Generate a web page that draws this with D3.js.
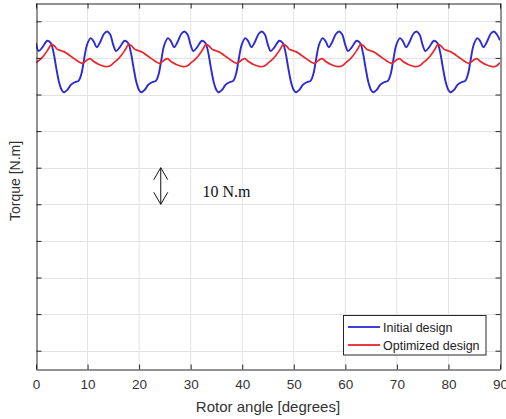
<!DOCTYPE html>
<html>
<head>
<meta charset="utf-8">
<script src="https://cdn.jsdelivr.net/npm/d3@7"></script>
<style>
  html, body { margin: 0; padding: 0; background: #fff; }
  svg { display: block; }
</style>
</head>
<body>
<svg id="chart" width="506" height="419"></svg>
<script>
// ---- data ----
const xTicks = [0, 10, 20, 30, 40, 50, 60, 70, 80, 90];
const yTicks = [0, 10, 20, 30, 40, 50, 60, 70, 80, 90];

const initialAngle = [
  0, 0.5, 1.2, 2.2, 2.9, 3.4, 3.9, 4.5, 5.0,
  5.4, 6.1, 6.8, 7.6, 8.3, 8.8, 9.3, 9.9, 10.6, 11.2, 11.8, 12.4, 13.2, 13.8, 14.4, 15.0, 15.5, 16.2, 17.2, 17.9, 18.4, 18.9, 19.5, 20.0,
  20.4, 21.1, 21.8, 22.6, 23.3, 23.8, 24.3, 24.9, 25.6, 26.2, 26.8, 27.4, 28.2, 28.8, 29.4, 30.0, 30.5, 31.2, 32.2, 32.9, 33.4, 33.9, 34.5, 35.0,
  35.4, 36.1, 36.8, 37.6, 38.3, 38.8, 39.3, 39.9, 40.6, 41.2, 41.8, 42.4, 43.2, 43.8, 44.4, 45.0, 45.5, 46.2, 47.2, 47.9, 48.4, 48.9, 49.5, 50.0,
  50.4, 51.1, 51.8, 52.6, 53.3, 53.8, 54.3, 54.9, 55.6, 56.2, 56.8, 57.4, 58.2, 58.8, 59.4, 60.0, 60.5, 61.2, 62.2, 62.9, 63.4, 63.9, 64.5, 65.0,
  65.4, 66.1, 66.8, 67.6, 68.3, 68.8, 69.3, 69.9, 70.6, 71.2, 71.8, 72.4, 73.2, 73.8, 74.4, 75.0, 75.5, 76.2, 77.2, 77.9, 78.4, 78.9, 79.5, 80.0,
  80.4, 81.1, 81.8, 82.6, 83.3, 83.8, 84.3, 84.9, 85.6, 86.2, 86.8, 87.4, 88.2, 88.8, 89.4, 90.0
];
const initialTorque = [
  84.0, 81.9, 82.8, 84.7, 84.0, 81.5, 77.5, 73.2, 71.2,
  70.6, 71.3, 72.7, 73.4, 73.8, 75.6, 79.4, 83.6, 85.4, 84.5, 82.9, 84.2, 86.6, 87.2, 86.4, 83.5, 81.9, 82.8, 84.7, 84.0, 81.5, 77.5, 73.2, 71.2,
  70.6, 71.3, 72.7, 73.4, 73.8, 75.6, 79.4, 83.6, 85.4, 84.5, 82.9, 84.2, 86.6, 87.2, 86.4, 83.5, 81.9, 82.8, 84.7, 84.0, 81.5, 77.5, 73.2, 71.2,
  70.6, 71.3, 72.7, 73.4, 73.8, 75.6, 79.4, 83.6, 85.4, 84.5, 82.9, 84.2, 86.6, 87.2, 86.4, 83.5, 81.9, 82.8, 84.7, 84.0, 81.5, 77.5, 73.2, 71.2,
  70.6, 71.3, 72.7, 73.4, 73.8, 75.6, 79.4, 83.6, 85.4, 84.5, 82.9, 84.2, 86.6, 87.2, 86.4, 83.5, 81.9, 82.8, 84.7, 84.0, 81.5, 77.5, 73.2, 71.2,
  70.6, 71.3, 72.7, 73.4, 73.8, 75.6, 79.4, 83.6, 85.4, 84.5, 82.9, 84.2, 86.6, 87.2, 86.4, 83.5, 81.9, 82.8, 84.7, 84.0, 81.5, 77.5, 73.2, 71.2,
  70.6, 71.3, 72.7, 73.4, 73.8, 75.6, 79.4, 83.6, 85.4, 84.5, 82.9, 84.2, 86.6, 87.2, 86.4, 84.8
];

const optimizedAngle = [
  0, 1.0, 1.5, 2.3, 3.0,
  3.6, 4.1, 5.0, 5.7, 6.5, 7.4, 8.2, 9.0, 9.9, 10.5, 11.2, 12.2, 13.5, 14.3, 15.1, 16.0, 16.5, 17.3, 18.0,
  18.6, 19.1, 20.0, 20.7, 21.5, 22.4, 23.2, 24.0, 24.9, 25.5, 26.2, 27.2, 28.5, 29.3, 30.1, 31.0, 31.5, 32.3, 33.0,
  33.6, 34.1, 35.0, 35.7, 36.5, 37.4, 38.2, 39.0, 39.9, 40.5, 41.2, 42.2, 43.5, 44.3, 45.1, 46.0, 46.5, 47.3, 48.0,
  48.6, 49.1, 50.0, 50.7, 51.5, 52.4, 53.2, 54.0, 54.9, 55.5, 56.2, 57.2, 58.5, 59.3, 60.1, 61.0, 61.5, 62.3, 63.0,
  63.6, 64.1, 65.0, 65.7, 66.5, 67.4, 68.2, 69.0, 69.9, 70.5, 71.2, 72.2, 73.5, 74.3, 75.1, 76.0, 76.5, 77.3, 78.0,
  78.6, 79.1, 80.0, 80.7, 81.5, 82.4, 83.2, 84.0, 84.9, 85.5, 86.2, 87.2, 88.5, 89.3, 90.0
];
const optimizedTorque = [
  78.7, 79.8, 80.6, 82.2, 83.7,
  83.2, 82.4, 81.9, 81.5, 80.7, 79.8, 79.0, 78.5, 79.4, 79.8, 79.0, 78.2, 77.6, 77.8, 78.7, 79.8, 80.6, 82.2, 83.7,
  83.2, 82.4, 81.9, 81.5, 80.7, 79.8, 79.0, 78.5, 79.4, 79.8, 79.0, 78.2, 77.6, 77.8, 78.7, 79.8, 80.6, 82.2, 83.7,
  83.2, 82.4, 81.9, 81.5, 80.7, 79.8, 79.0, 78.5, 79.4, 79.8, 79.0, 78.2, 77.6, 77.8, 78.7, 79.8, 80.6, 82.2, 83.7,
  83.2, 82.4, 81.9, 81.5, 80.7, 79.8, 79.0, 78.5, 79.4, 79.8, 79.0, 78.2, 77.6, 77.8, 78.7, 79.8, 80.6, 82.2, 83.7,
  83.2, 82.4, 81.9, 81.5, 80.7, 79.8, 79.0, 78.5, 79.4, 79.8, 79.0, 78.2, 77.6, 77.8, 78.7, 79.8, 80.6, 82.2, 83.7,
  83.2, 82.4, 81.9, 81.5, 80.7, 79.8, 79.0, 78.5, 79.4, 79.8, 79.0, 78.2, 77.6, 77.8, 78.7
];

const seriesNames = ["Initial design", "Optimized design"];
const seriesColors = ["#2b2bd4", "#e8262b"];
const scaleBar = { angle: 24.2, from: 40, to: 50, label: "10 N.m", labelAngle: 32.3, labelValue: 43.6 };

// ---- layout ----
const svg = d3.select("#chart");
const L = 36, R = 500, T = 3, B = 369;

const x = d3.scaleLinear().domain([0, 90]).range([L, R]);
const y = d3.scaleLinear().domain([-5, 95]).range([B, T]);

const axisColor = "#262626";
const gridColor = "#e3e3e3";

// grid
const grid = svg.append("g");
grid.selectAll("line.gx").data(xTicks.filter(d => d > 0 && d < 90)).enter().append("line")
  .attr("x1", d => x(d)).attr("x2", d => x(d)).attr("y1", T).attr("y2", B)
  .attr("stroke", gridColor).attr("stroke-width", 1);
grid.selectAll("line.gy").data(yTicks).enter().append("line")
  .attr("y1", d => Math.round(y(d)) + 0.5).attr("y2", d => Math.round(y(d)) + 0.5).attr("x1", L).attr("x2", R)
  .attr("stroke", gridColor).attr("stroke-width", 1);

// lines
const clip = svg.append("clipPath").attr("id", "clip").append("rect")
  .attr("x", L).attr("y", T).attr("width", R - L).attr("height", B - T);

const line = d3.line().x(d => x(d[0])).y(d => y(d[1])).curve(d3.curveCatmullRom.alpha(0.5));
const initData = initialAngle.map((a, i) => [a, initialTorque[i]]);
const optData = optimizedAngle.map((a, i) => [a, optimizedTorque[i]]);

const plot = svg.append("g").attr("clip-path", "url(#clip)");
plot.append("path").datum(initData).attr("d", line)
  .attr("fill", "none").attr("stroke", seriesColors[0]).attr("stroke-width", 1.9).attr("stroke-linejoin", "round");
plot.append("path").datum(optData).attr("d", line)
  .attr("fill", "none").attr("stroke", seriesColors[1]).attr("stroke-width", 1.7).attr("stroke-linejoin", "round");

// axes (box with inward ticks)
const tickLen = 5;
const xBottom = d3.axisBottom(x).tickValues(xTicks).tickSizeInner(-tickLen).tickSizeOuter(0).tickPadding(10);
const gxb = svg.append("g").attr("transform", `translate(0,${B + 0.5})`).call(xBottom);
gxb.select(".domain").attr("stroke", axisColor);
gxb.selectAll(".tick line").attr("stroke", axisColor);
gxb.selectAll(".tick text").attr("fill", "#333").attr("font-family", "Liberation Sans, Arial, sans-serif").attr("font-size", 13.5);

const xTop = d3.axisTop(x).tickValues(xTicks).tickSizeInner(-tickLen).tickSizeOuter(0).tickFormat("");
const gxt = svg.append("g").attr("transform", `translate(0,${T + 0.5})`).call(xTop);
gxt.select(".domain").attr("stroke", axisColor);
gxt.selectAll(".tick line").attr("stroke", axisColor);

const yLeft = d3.axisLeft(y).tickValues(yTicks).tickSizeInner(-tickLen).tickSizeOuter(0).tickFormat("");
const gyl = svg.append("g").attr("transform", `translate(${L + 0.5},0)`).call(yLeft);
gyl.select(".domain").attr("stroke", axisColor);
gyl.selectAll(".tick line").attr("stroke", axisColor);

const yRight = d3.axisRight(y).tickValues(yTicks).tickSizeInner(-tickLen).tickSizeOuter(0).tickFormat("");
const gyr = svg.append("g").attr("transform", `translate(${R + 0.5},0)`).call(yRight);
gyr.select(".domain").attr("stroke", axisColor);
gyr.selectAll(".tick line").attr("stroke", axisColor);

// axis titles
svg.append("text").attr("x", (L + R) / 2 + 0).attr("y", 412)
  .attr("text-anchor", "middle").attr("font-family", "Liberation Sans, Arial, sans-serif")
  .attr("font-size", 15).attr("fill", "#333").text("Rotor angle [degrees]");
svg.append("text").attr("transform", `translate(20,181) rotate(-90)`)
  .attr("text-anchor", "middle").attr("font-family", "Liberation Sans, Arial, sans-serif")
  .attr("font-size", 14).attr("fill", "#333").text("Torque [N.m]");

// scale bar annotation
const ax = x(scaleBar.angle), ay1 = y(scaleBar.to), ay2 = y(scaleBar.from);
const ann = svg.append("g").attr("stroke", "#111").attr("stroke-width", 1).attr("fill", "none");
ann.append("line").attr("x1", ax).attr("x2", ax).attr("y1", ay1).attr("y2", ay2);
ann.append("path").attr("d", `M${ax - 7},${ay1 + 12}L${ax},${ay1}L${ax + 7},${ay1 + 12}`);
ann.append("path").attr("d", `M${ax - 7},${ay2 - 12}L${ax},${ay2}L${ax + 7},${ay2 - 12}`);
svg.append("text").attr("x", x(scaleBar.labelAngle)).attr("y", y(scaleBar.labelValue) + 5.5)
  .attr("font-family", "Liberation Serif, Times New Roman, serif").attr("font-size", 16)
  .attr("fill", "#111").text(scaleBar.label);

// legend
const lg = svg.append("g");
lg.append("rect").attr("x", 343.5).attr("y", 315.5).attr("width", 142.5).attr("height", 39.5)
  .attr("fill", "#fff").attr("stroke", axisColor).attr("stroke-width", 1);
seriesNames.forEach((name, i) => {
  const yy = 327 + i * 18;
  lg.append("line").attr("x1", 348).attr("x2", 380).attr("y1", yy).attr("y2", yy)
    .attr("stroke", seriesColors[i]).attr("stroke-width", 1.8);
  lg.append("text").attr("x", 383).attr("y", yy + 4.5)
    .attr("font-family", "Liberation Sans, Arial, sans-serif").attr("font-size", 12.5)
    .attr("fill", "#222").text(name);
});
</script>
</body>
</html>
